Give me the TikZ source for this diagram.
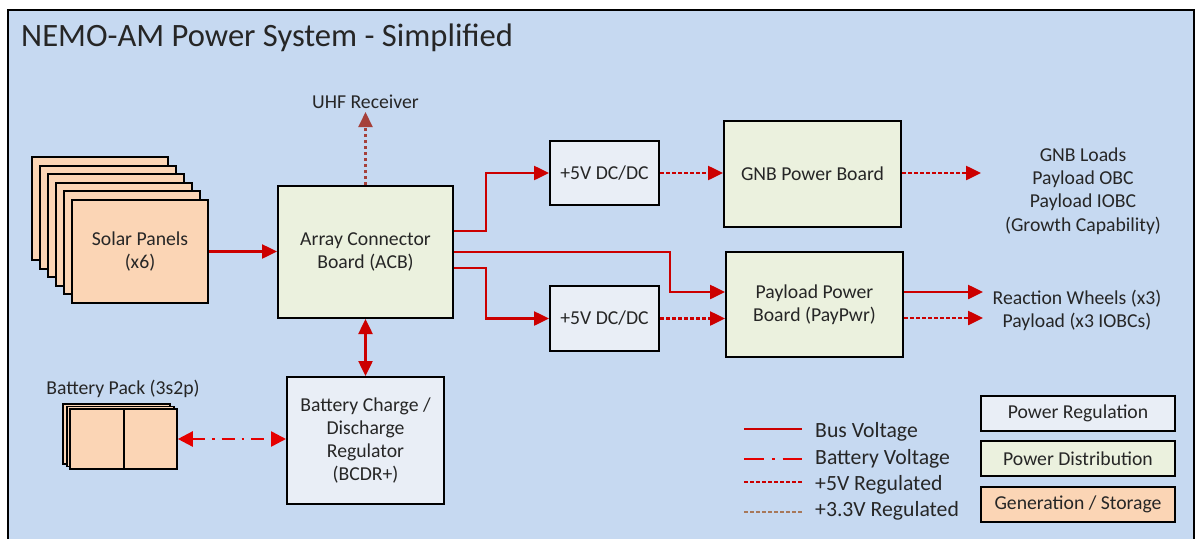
\documentclass[tikz,border=0pt]{standalone}
\usepackage{fontspec}
\setmainfont{Carlito}
\usetikzlibrary{arrows.meta}
\definecolor{bgblue}{HTML}{C6D9F1}
\definecolor{regfill}{HTML}{E9EEF6}
\definecolor{distfill}{HTML}{EBF1DE}
\definecolor{genfill}{HTML}{FBD5B5}
\definecolor{busred}{HTML}{CC0000}
\definecolor{uhfbrown}{HTML}{A5403A}
\definecolor{lgbrown}{HTML}{A8785A}
\definecolor{txt}{HTML}{262626}
\tikzset{
  box/.style={draw=black, line width=2pt, inner sep=0pt, align=center, font=\fontsize{19.7}{23}\selectfont, text=txt},
  regbox/.style={box, fill=regfill},
  distbox/.style={box, fill=distfill},
  genbox/.style={box, fill=genfill},
  lbl/.style={inner sep=0pt, align=center, font=\fontsize{19.7}{23.3}\selectfont, text=txt},
  lgtxt/.style={inner sep=0pt, anchor=west, font=\fontsize{21.7}{26}\selectfont, text=txt},
  tip/.style={-{Triangle[length=15pt,width=14pt]}},
  bus/.style={draw=busred, line width=2.5pt, tip},
  buslong/.style={draw=busred, line width=2.5pt, {Triangle[length=15pt,width=14pt]}-{Triangle[length=15pt,width=14pt]}},
  battv/.style={draw=red!90!black, line width=2.5pt, dash pattern=on 13pt off 7pt on 2.5pt off 7pt, {Triangle[length=15pt,width=15pt]}-{Triangle[length=15pt,width=15pt]}},
  reg/.style={draw=busred, line width=2.5pt, dash pattern=on 3.5pt off 2.5pt, tip},
  uhf/.style={draw=uhfbrown, line width=2.5pt, dash pattern=on 3.5pt off 2.5pt, -{Triangle[length=15pt,width=14pt]}},
}
\begin{document}
\begin{tikzpicture}[x=1pt,y=-1pt]
\useasboundingbox (0,0) rectangle (1196,538);
\fill[white] (0,0) rectangle (1196,538);
\draw[fill=bgblue, line width=2pt] (8,10) rectangle (1194,545);
% title
\node[anchor=west, inner sep=0pt, font=\fontsize{32.6}{38}\selectfont, text=txt] (title) at (21,38) {NEMO-AM Power System - Simplified};
% solar panel stack
\foreach \i in {0,1,2,3,4} {
  \draw[fill=genfill, line width=2pt] (32+8*\i,157+8.6*\i) rectangle (168+8*\i,260+8.6*\i);
}
\node[genbox, minimum width=136pt, minimum height=103pt] (solar) at (140,251.5) {Solar Panels\\(x6)};
% ACB
\node[distbox, minimum width=175pt, minimum height=132pt] (acb) at (365.5,252) {Array Connector\\Board (ACB)};
\node[lbl] (uhfr) at (365.5,102) {UHF Receiver};
% DC/DC
\node[regbox, minimum width=109pt, minimum height=64pt] (dc1) at (604.5,173) {+5V DC/DC};
\node[regbox, minimum width=109pt, minimum height=65pt] (dc2) at (604.5,318.5) {+5V DC/DC};
% boards
\node[distbox, minimum width=177pt, minimum height=106pt] (gnb) at (812.5,174) {GNB Power Board};
\node[distbox, minimum width=177pt, minimum height=105pt] (pay) at (814.5,304.5) {Payload Power\\Board (PayPwr)};
% loads
\node[lbl] (gnbloads) at (1083,191) {GNB Loads\\Payload OBC\\Payload IOBC\\(Growth Capability)};
\node[lbl] (payloads) at (1077,310.5) {Reaction Wheels (x3)\\Payload (x3 IOBCs)};
\coordinate (gnbo) at (981,173);
\coordinate (payo1) at (983,292);
\coordinate (payo2) at (983,318);
% BCDR
\node[regbox, minimum width=157pt, minimum height=127pt] (bcdr) at (365.5,440.5) {Battery Charge /\\Discharge\\Regulator\\(BCDR+)};
% battery
\node[lbl] (battlbl) at (123,389) {Battery Pack (3s2p)};
\draw[fill=genfill, line width=1.6pt] (63,404) rectangle (170,464);
\draw[fill=genfill, line width=1.6pt] (67,406.5) rectangle (174,466.5);
\node[genbox, line width=1.6pt, minimum width=54pt, minimum height=60pt] (battl) at (97,439) {};
\node[genbox, line width=1.6pt, minimum width=53pt, minimum height=60pt] (battr) at (150.5,439) {};
% connectors
\draw[bus] (solar.east) -- (solar.east -| acb.west);
\draw[uhf] (acb.north) -- ([yshift=-3pt]uhfr.south);
\draw[bus] ([yshift=21pt]acb.east) -- ++(32,0) |- (dc1.west);
\draw[bus] (acb.east) -- ++(216,0) |- ([yshift=12.5pt]pay.west);
\draw[bus] ([yshift=-16pt]acb.east) -- ++(32,0) |- (dc2.west);
\draw[reg] (dc1.east) -- (dc1.east -| gnb.west);
\draw[reg] (dc2.east) -- (dc2.east -| pay.west);
\draw[reg] (gnb.east |- gnbo) -- (gnbo);
\draw[bus] (pay.east |- payo1) -- (payo1);
\draw[reg] (pay.east |- payo2) -- (payo2);
\draw[buslong] (acb.south) -- (bcdr.north);
\draw[battv] (battr.east) -- (battr.east -| bcdr.west);
% legend lines
\coordinate (l1a) at (744,429); \coordinate (l1b) at (802,429);
\coordinate (l2a) at (744,459); \coordinate (l2b) at (802,459);
\coordinate (l3a) at (744,482); \coordinate (l3b) at (802,482);
\coordinate (l4a) at (744,512); \coordinate (l4b) at (802,512);
\draw[busred, line width=2.5pt] (l1a) -- (l1b);
\draw[red!90!black, line width=2.5pt, dash pattern=on 20pt off 8pt on 2.5pt off 8pt] (l2a) -- (l2b);
\draw[busred, line width=2.5pt, dash pattern=on 3.5pt off 2.5pt] (l3a) -- (l3b);
\draw[lgbrown, line width=2.5pt, dash pattern=on 3.5pt off 2.5pt] (l4a) -- (l4b);
\node[lgtxt] (t1) at (815,432) {Bus Voltage};
\node[lgtxt] (t2) at (815,459) {Battery Voltage};
\node[lgtxt] (t3) at (815,485) {+5V Regulated};
\node[lgtxt] (t4) at (815,511) {+3.3V Regulated};
% legend boxes
\node[regbox, minimum width=194pt, minimum height=35pt] (lgreg) at (1078,413.5) {Power Regulation};
\node[distbox, minimum width=194pt, minimum height=35pt] (lgdist) at (1078,458.5) {Power Distribution};
\node[genbox, minimum width=194pt, minimum height=35pt] (lggen) at (1078,504.5) {Generation / Storage};
\end{tikzpicture}
\end{document}
